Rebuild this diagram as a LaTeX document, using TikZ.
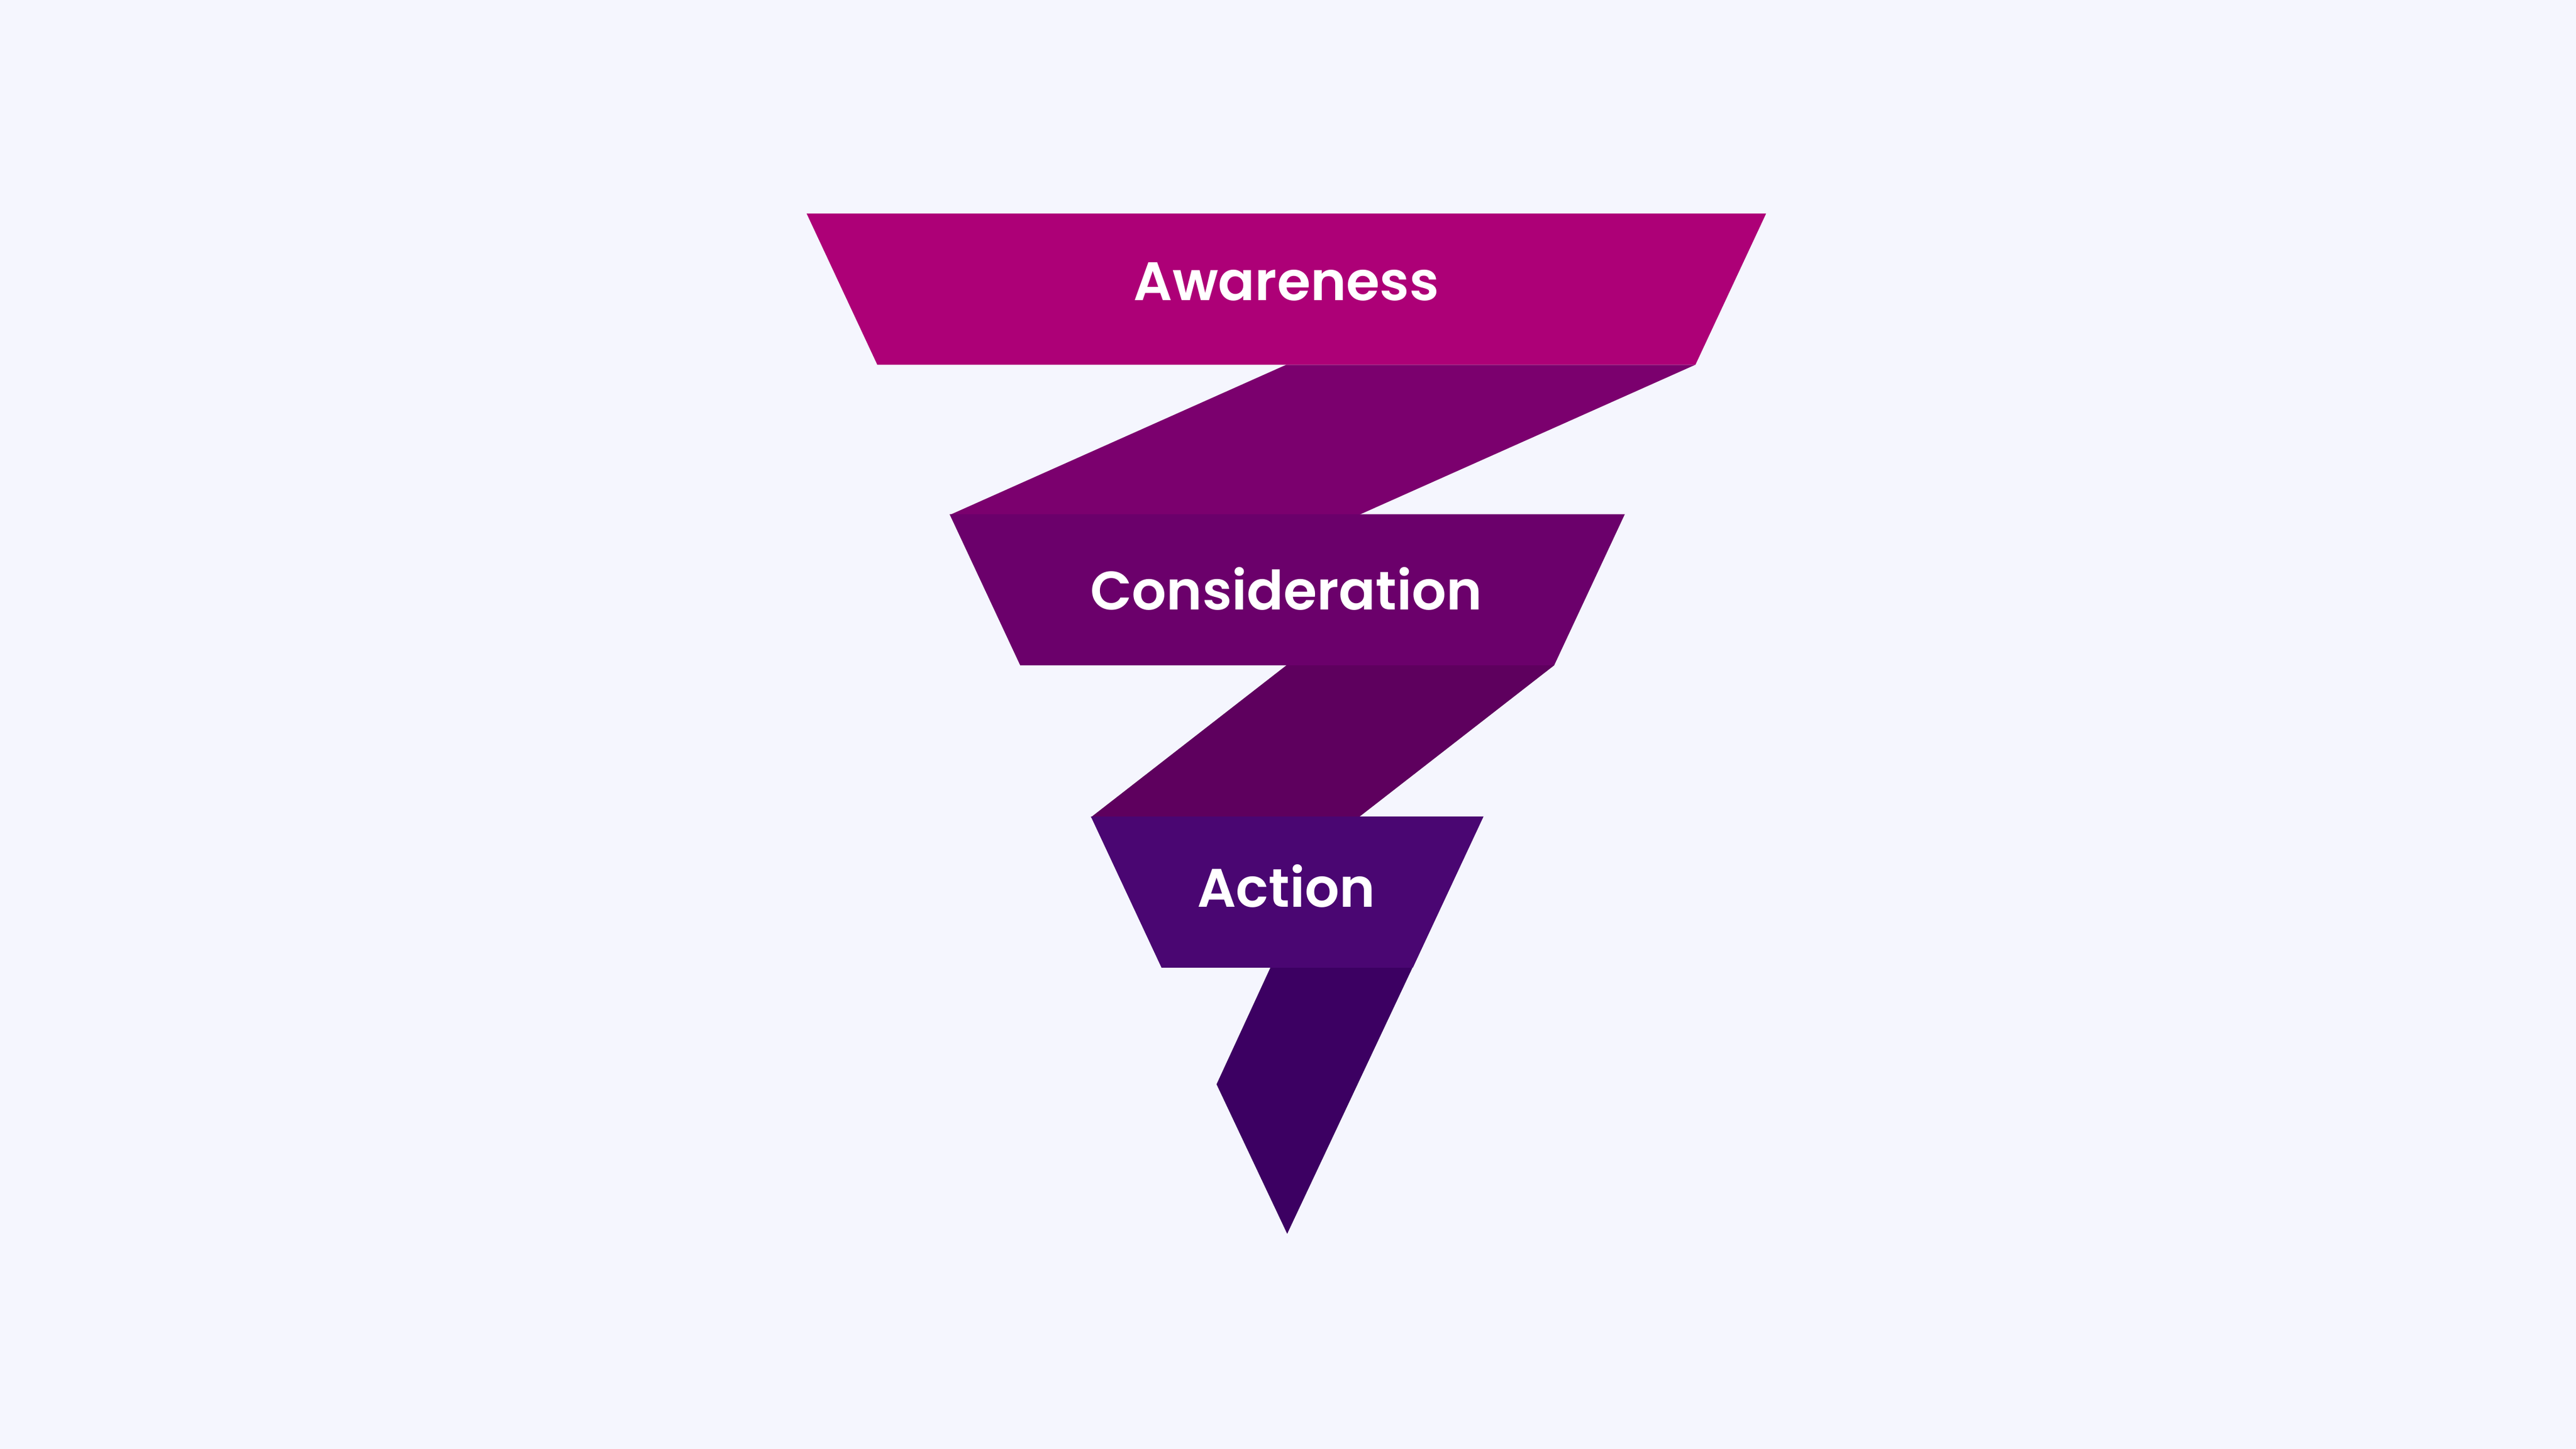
\documentclass[tikz,border=0pt]{standalone}
\usepackage{fontspec}
\newfontfamily\labfont{Poppins SemiBold}
\definecolor{bg}{HTML}{F5F6FE}
\definecolor{cA}{HTML}{AD0077}
\definecolor{cAB}{HTML}{7B006E}
\definecolor{cB}{HTML}{6B006B}
\definecolor{cBC}{HTML}{5E005E}
\definecolor{cC}{HTML}{4A0672}
\definecolor{cT}{HTML}{3C0062}
\tikzset{lab/.style={text=white,font=\labfont\fontsize{33}{40}\selectfont,anchor=base,inner sep=0pt}}
\begin{document}
\begin{tikzpicture}[x=1pt,y=-1pt]
\fill[bg] (0,0) rectangle (1568,882);
\useasboundingbox (0,0) rectangle (1568,882);
\fill[cAB] (783,222) -- (1032,222) -- (827,313.5) -- (578,313.5) -- cycle;
\fill[cBC] (783,405) -- (946,405) -- (827,497.5) -- (664,497.5) -- cycle;
\fill[cT] (773.5,588.5) -- (860,588.5) -- (783.5,751) -- (740.5,660) -- cycle;
\fill[cA] (491,130) -- (1075,130) -- (1032,222) -- (534,222) -- cycle;
\fill[cB] (578,313) -- (989,313) -- (946,405) -- (621,405) -- cycle;
\fill[cC] (664,497) -- (903,497) -- (860,589) -- (707,589) -- cycle;
\node[lab] (aw) at (783,183) {Awareness};
\node[lab] (co) at (783,371) {Consideration};
\node[lab] (ac) at (783,552) {Action};
\end{tikzpicture}
\end{document}
